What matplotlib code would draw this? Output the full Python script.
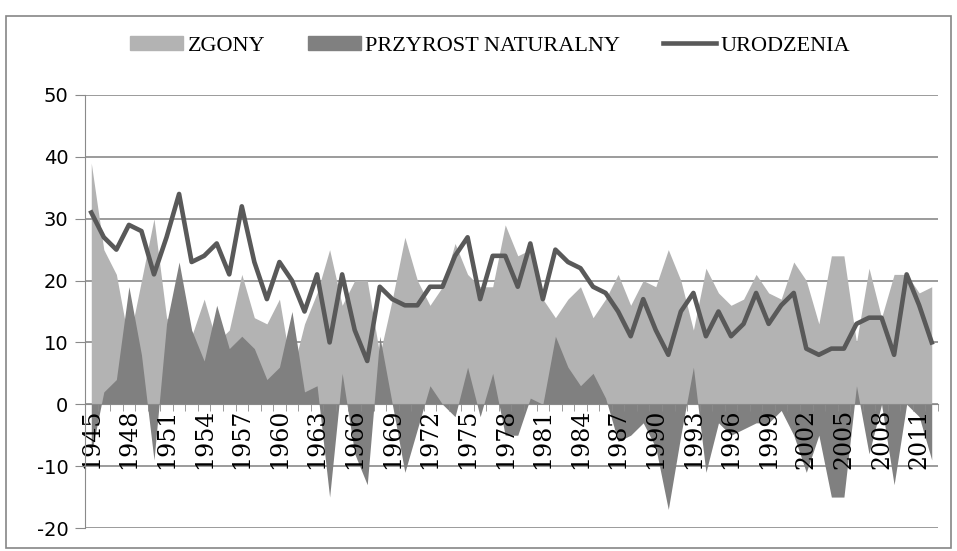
import numpy as np
import matplotlib.pyplot as plt
from matplotlib.patches import Patch, Rectangle
from matplotlib.lines import Line2D

plt.rcParams['axes.unicode_minus'] = False

# Dane (1945-2012)
lata = list(range(1945, 2013))

urodzenia = [31, 27, 25, 29, 28, 21, 27, 34, 23, 24,
             26, 21, 32, 23, 17, 23, 20, 15, 21, 10,
             21, 12, 7, 19, 17, 16, 16, 19, 19, 24,
             27, 17, 24, 24, 19, 26, 17, 25, 23, 22,
             19, 18, 15, 11, 17, 12, 8, 15, 18, 11,
             15, 11, 13, 18, 13, 16, 18, 9, 8, 9,
             9, 13, 14, 14, 8, 21, 16, 10]

zgony = [39, 25, 21, 10, 20, 30, 14, 11, 11, 17,
         10, 12, 21, 14, 13, 17, 5, 13, 18, 25,
         16, 20, 20, 8, 17, 27, 20, 16, 19, 26,
         21, 19, 19, 29, 24, 25, 17, 14, 17, 19,
         14, 17, 21, 16, 20, 19, 25, 20, 12, 22,
         18, 16, 17, 21, 18, 17, 23, 20, 13, 24,
         24, 10, 22, 14, 21, 21, 18, 19]

przyrost = [-8, 2, 4, 19, 8, -9, 13, 23, 12, 7,
            16, 9, 11, 9, 4, 6, 15, 2, 3, -15,
            5, -8, -13, 11, 0, -11, -4, 3, 0, -2,
            6, -2, 5, -5, -5, 1, 0, 11, 6, 3,
            5, 1, -6, -5, -3, -7, -17, -5, 6, -11,
            -3, -5, -4, -3, -3, -1, -5, -11, -5, -15,
            -15, 3, -8, 0, -13, 0, -2, -9]

x = np.arange(len(lata))
grid_col = '#8a8a8a'

fig = plt.figure(figsize=(9.57, 5.51), dpi=100)
ax = fig.add_axes([85 / 957, 23 / 551, 853 / 957, 433 / 551])

# Linie siatki pod seriami
for yv in range(-20, 51, 10):
    ax.axhline(yv, color=grid_col, lw=1.2, zorder=0.5)

# Serie: obszary i linia
ax.fill_between(x, zgony, 0, color='#b3b3b3', lw=0, zorder=1)
ax.fill_between(x, przyrost, 0, color='#808080', lw=0, zorder=1.5)
ax.plot(x, urodzenia, color='#595959', lw=3.3, zorder=2)

# Osie (rysowane nad seriami, jak w Excelu)
ax.set_xlim(-0.5, len(lata) - 0.5)
ax.set_ylim(-20, 50)
ax.set_yticks(range(-20, 51, 10))

ax.spines['top'].set_visible(False)
ax.spines['right'].set_visible(False)
ax.spines['left'].set_color(grid_col)
ax.spines['bottom'].set_position(('data', 0))
ax.spines['bottom'].set_color(grid_col)

ax.set_xticks(x[::3])
ax.set_xticklabels([str(r) for r in lata[::3]], rotation=90,
                   fontfamily='DejaVu Serif', fontsize=17)
ax.set_xticks(np.arange(-0.5, len(lata), 1), minor=True)
ax.tick_params(axis='x', which='major', length=0, pad=3)
ax.tick_params(axis='x', which='minor', length=5, color=grid_col, direction='out')
ax.tick_params(axis='y', length=7, color=grid_col, pad=5, labelsize=14)

# Legenda
uchwyty = [Patch(color='#b3b3b3', label='ZGONY'),
           Patch(color='#808080', label='PRZYROST NATURALNY'),
           Line2D([0], [0], color='#595959', lw=3.3, label='URODZENIA')]
fig.legend(handles=uchwyty, loc='center', bbox_to_anchor=(0.512, 0.917), ncol=3,
           frameon=False, prop={'family': 'Liberation Serif', 'size': 16},
           handlelength=2.4, handleheight=0.6, handletextpad=0.2, columnspacing=1.9)

# Ramka wykresu
fig.patches.append(Rectangle((6 / 957, 3 / 551), 945 / 957, 532 / 551,
                             transform=fig.transFigure, fill=False,
                             edgecolor='#868686', lw=1.2))

fig.savefig('out.png', dpi=100)
